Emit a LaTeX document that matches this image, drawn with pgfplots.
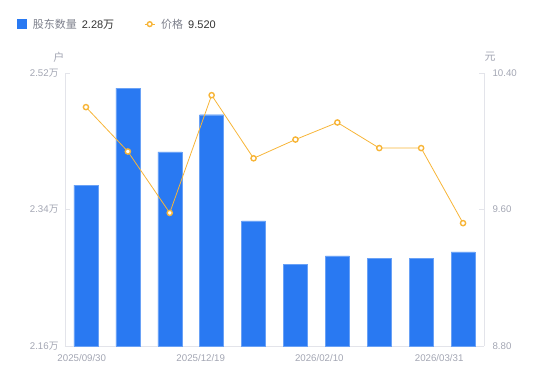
\documentclass[border=0pt]{standalone}
\usepackage{pgfplots}
\pgfplotsset{compat=1.18}
\usetikzlibrary{calc}
\usepackage{fontspec}
\setmainfont{Liberation Sans}
\newfontfamily\cjk{Noto Sans CJK SC}
\definecolor{barblue}{HTML}{2979F2}
\definecolor{lineorange}{HTML}{F7B538}
\definecolor{ticklab}{HTML}{A3A6B3}
\definecolor{axgray}{HTML}{E3E4EA}
\definecolor{leglab}{HTML}{7D808C}
\definecolor{legval}{HTML}{333333}
\begin{document}
\begin{tikzpicture}[x=1pt,y=1pt]
\path[use as bounding box] (0,0) rectangle (550,381);
\pgfplotsset{
  base/.style={
    at={(65pt,35pt)}, anchor=south west,
    scale only axis, width=419pt, height=273pt,
    xmin=-0.5, xmax=9.5,
    axis line style={draw=axgray, line width=0.8pt},
    tick style={draw=axgray, line width=0.8pt},
    tick label style={font=\fontsize{9.7}{11}\selectfont, text=ticklab},
    /pgf/number format/assume math mode=true,
    /pgf/number format/fixed, /pgf/number format/fixed zerofill,
    /pgf/number format/precision=2,
  }
}
\begin{axis}[base,
  axis x line*=bottom, axis y line*=left,
  ymin=2.16, ymax=2.52, ytick={2.16,2.34,2.52},
  yticklabel={\pgfmathprintnumber{\tick}{\cjk 万}},
  yticklabel style={xshift=-3pt},
  major tick length=5pt,
  xtick={-0.1,2.74,5.57,8.43},
  xticklabels={2025/09/30,2025/12/19,2026/02/10,2026/03/31},
  x tick style={draw=none},
  xticklabel style={yshift=-5pt},
  clip=false,
]
\addplot[ybar, bar width=24pt, fill=barblue, draw=barblue!70!white, line width=0.4pt, bar shift=0pt]
  coordinates {(0,2.372) (1,2.500) (2,2.416) (3,2.465) (4,2.325) (5,2.268) (6,2.279) (7,2.276) (8,2.276) (9,2.284)};
\node[font=\cjk\fontsize{11}{12}\selectfont, text=ticklab] at ($(rel axis cs:0,1)+(-6pt,16pt)$) {户};
\end{axis}
\begin{axis}[base,
  axis x line=none, axis y line*=right,
  ymin=8.8, ymax=10.4, ytick={8.8,9.6,10.4},
  yticklabel style={xshift=5pt},
  major tick length=5pt,
  clip=false,
  legend style={at={(rel axis cs:-0.114,1.179)}, anchor=west, draw=none, fill=none,
    legend columns=2, font=\fontsize{11}{13}\selectfont,
    /tikz/every odd column/.append style={column sep=4pt},
    /tikz/every even column/.append style={column sep=28pt},
    inner sep=0pt, nodes={inner sep=2pt}},
]
\addlegendimage{legend image code/.code={\fill[barblue] (0pt,-4.5pt) rectangle (9pt,4.5pt);}}
\addlegendentry{{\cjk\color{leglab}股东数量}\hspace{5pt}{\color{legval}2.28{\cjk 万}}}
\addplot[color=lineorange, line width=0.8pt, mark=*, mark size=2.6pt,
  mark options={fill=white, draw=lineorange, line width=1.4pt},
  legend image code/.code={\draw[lineorange, line width=1pt] (0pt,0pt) -- (10pt,0pt); \draw[lineorange, fill=white, line width=1.4pt] (5pt,0pt) circle (2.4pt);}]
  coordinates {(0,10.20) (1,9.94) (2,9.58) (3,10.27) (4,9.90) (5,10.01) (6,10.11) (7,9.96) (8,9.96) (9,9.52)};
\addlegendentry{{\cjk\color{leglab}价格}\hspace{5pt}{\color{legval}9.520}}
\node[font=\cjk\fontsize{11}{12}\selectfont, text=ticklab] at ($(rel axis cs:1,1)+(6pt,16pt)$) {元};
\end{axis}
\end{tikzpicture}
\end{document}
